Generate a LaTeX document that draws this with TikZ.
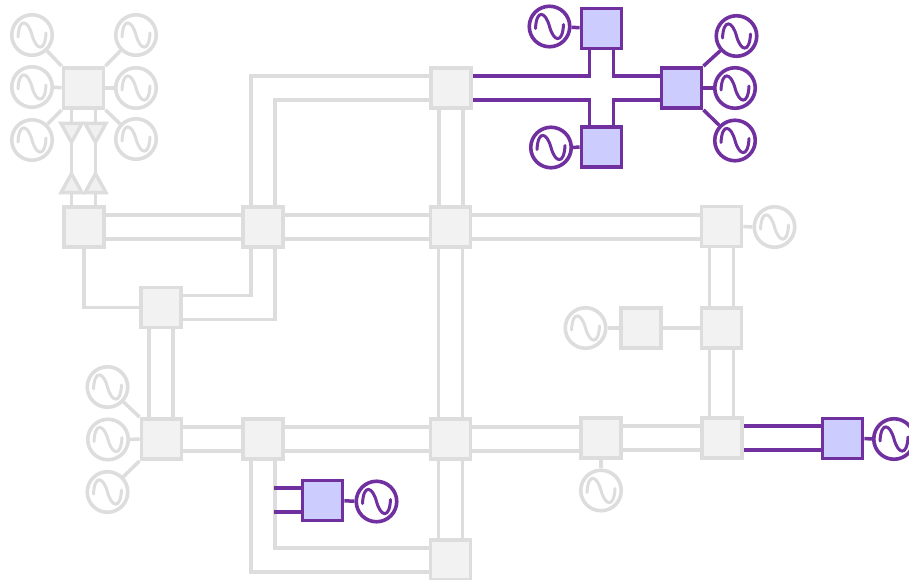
\documentclass[tikz,border=0pt]{standalone}
\usetikzlibrary{shapes.geometric}
\definecolor{gline}{HTML}{DDDDDD}
\definecolor{gfill}{HTML}{F2F2F2}
\definecolor{pline}{HTML}{7030A0}
\definecolor{pfill}{HTML}{CCCCFF}
\tikzset{
  gedge/.style={draw=gline,line width=3.5pt},
  pedge/.style={draw=pline,line width=3.5pt},
  gbox/.style={rectangle,draw=gline,fill=gfill,line width=3.8pt,minimum size=40pt,inner sep=0pt},
  pbox/.style={rectangle,draw=pline,fill=pfill,line width=3.8pt,minimum size=40pt,inner sep=0pt},
  wave/.style={path picture={
    \begin{scope}[shift={(path picture bounding box.center)}]
      \draw[#1,line width=3pt,line cap=round] (-14,2) .. controls (-13,-18) and (-4,-15) .. (0,0)
        .. controls (4,15) and (13,18) .. (14,-2);
    \end{scope}}},
  ggen/.style={circle,draw=gline,fill=white,line width=3.6pt,minimum size=40.5pt,inner sep=0pt,wave=gline},
  pgen/.style={circle,draw=pline,fill=white,line width=3.6pt,minimum size=40.5pt,inner sep=0pt,wave=pline},
  tri/.style={isosceles triangle,isosceles triangle apex angle=56,isosceles triangle stretches,
    draw=gline,fill=gfill!90!gline,line width=3.4pt,minimum height=19pt,minimum width=21pt,inner sep=0pt,anchor=apex},
}
% horizontal and vertical pairs of lines between two named nodes
\newcommand{\hpair}[3]{%
  \draw[#1] ([yshift=12pt]#2.east) -- ([yshift=12pt]#2.east -| #3.west);
  \draw[#1] ([yshift=-12pt]#2.east) -- ([yshift=-12pt]#2.east -| #3.west);}
\newcommand{\vpair}[3]{%
  \draw[#1] ([xshift=-12pt]#2.south) -- ([xshift=-12pt]#2.south |- #3.north);
  \draw[#1] ([xshift=12pt]#2.south) -- ([xshift=12pt]#2.south |- #3.north);}
\begin{document}
\begin{tikzpicture}[x=1pt,y=-1pt]
\useasboundingbox (0,0) rectangle (909,580);
% grey buses
\node[gbox] (T) at (83.5,88) {};
\node[gbox] (A) at (84,227) {};
\node[gbox] (B) at (263,227) {};
\node[gbox] (C) at (451,88) {};
\node[gbox] (D) at (450.5,227) {};
\node[gbox] (E) at (721.5,226.5) {};
\node[gbox] (F) at (721.5,328) {};
\node[gbox] (G) at (641,328) {};
\node[gbox] (H) at (722,438) {};
\node[gbox] (I) at (601,438) {};
\node[gbox] (L) at (161,307.5) {};
\node[gbox] (M) at (161.5,439) {};
\node[gbox] (N) at (263,439) {};
\node[gbox] (O) at (450.5,439) {};
\node[gbox] (P) at (450.5,560) {};
% purple buses
\node[pbox] (J) at (842.5,438.5) {};
\node[pbox] (Q) at (322.5,500.5) {};
\node[pbox] (R) at (601.5,28.5) {};
\node[pbox] (S) at (601.5,147) {};
\node[pbox] (U) at (681.5,88) {};
% grey generators
\node[ggen] (g1) at (32,35) {};
\node[ggen] (g2) at (136,35) {};
\node[ggen] (g3) at (32,87) {};
\node[ggen] (g4) at (136,88) {};
\node[ggen] (g5) at (32,140) {};
\node[ggen] (g6) at (136,139) {};
\node[ggen] (g7) at (107.5,387) {};
\node[ggen] (g8) at (108,439.5) {};
\node[ggen] (g9) at (107.5,492) {};
\node[ggen] (g10) at (774.5,227) {};
\node[ggen] (g11) at (585.5,328) {};
\node[ggen] (g12) at (601,490.5) {};
% purple generators
\node[pgen] (p1) at (549.5,26.5) {};
\node[pgen] (p2) at (551,147.5) {};
\node[pgen] (p3) at (736.5,36) {};
\node[pgen] (p4) at (735,88) {};
\node[pgen] (p5) at (735,140.5) {};
\node[pgen] (p6) at (894,439) {};
\node[pgen] (p7) at (376.5,501.5) {};
% free ends of the purple stubs
\coordinate (qa) at (274,488);
\coordinate (qb) at (274,512);
% grey connectors
\draw[gedge] (g1) -- (T.north west);
\draw[gedge] (g2) -- (T.north east);
\draw[gedge] (g3) -- (T);
\draw[gedge] (g4) -- (T);
\draw[gedge] (g5) -- (T.south west);
\draw[gedge] (g6) -- (T.south east);
\draw[gedge] (g7) -- (M.north west);
\draw[gedge] (g8) -- (M);
\draw[gedge] (g9) -- (M.south west);
\draw[gedge] (g10) -- (E);
\draw[gedge] (g11) -- (G);
\draw[gedge] (g12) -- (I);
\draw[gedge] (G) -- (F);
\hpair{gedge}{A}{B}
\hpair{gedge}{B}{D}
\hpair{gedge}{D}{E}
\hpair{gedge}{M}{N}
\hpair{gedge}{N}{O}
\hpair{gedge}{O}{I}
\hpair{gedge}{I}{H}
\vpair{gedge}{C}{D}
\vpair{gedge}{D}{O}
\vpair{gedge}{O}{P}
\vpair{gedge}{E}{F}
\vpair{gedge}{F}{H}
\vpair{gedge}{L}{M}
\draw[gedge] ([xshift=-12pt]B.north) |- ([yshift=12pt]C.west);
\draw[gedge] ([xshift=12pt]B.north) |- ([yshift=-12pt]C.west);
\draw[gedge] ([xshift=-12pt]B.south) |- ([yshift=12pt]L.east);
\draw[gedge] ([xshift=12pt]B.south) |- ([yshift=-12pt]L.east);
\draw[gedge] (A.south) |- (L.west);
\draw[gedge] ([xshift=-12pt]N.south) |- ([yshift=-12pt]P.west);
\draw[gedge] ([xshift=12pt]N.south) |- ([yshift=12pt]P.west);
% grey link with its triangles
\draw[gedge] ([xshift=-12pt]T.south) -- ([xshift=-12pt]T.south |- A.north);
\draw[gedge] ([xshift=12pt]T.south) -- ([xshift=12pt]T.south |- A.north);
\node[tri,shape border rotate=-90] (t1) at (71.5,146) {};
\node[tri,shape border rotate=-90] (t2) at (95.5,146) {};
\node[tri,shape border rotate=90] (t3) at (71.5,170) {};
\node[tri,shape border rotate=90] (t4) at (95.5,170) {};
% purple connectors
\draw[pedge] (p1) -- (R);
\draw[pedge] (p2) -- (S);
\draw[pedge] (p3) -- (U.north east);
\draw[pedge] (p4) -- (U);
\draw[pedge] (p5) -- (U.south east);
\draw[pedge] (p6) -- (J);
\draw[pedge] (p7) -- (Q);
\hpair{pedge}{H}{J}
\draw[pedge] ([yshift=12pt]C.east) -| ([xshift=-12pt]R.south);
\draw[pedge] ([yshift=-12pt]C.east) -| ([xshift=-12pt]S.north);
\draw[pedge] ([yshift=12pt]U.west) -| ([xshift=12pt]R.south);
\draw[pedge] ([yshift=-12pt]U.west) -| ([xshift=12pt]S.north);
\draw[pedge] (qa) -- (qa -| Q.west);
\draw[pedge] (qb) -- (qb -| Q.west);
\end{tikzpicture}
\end{document}
